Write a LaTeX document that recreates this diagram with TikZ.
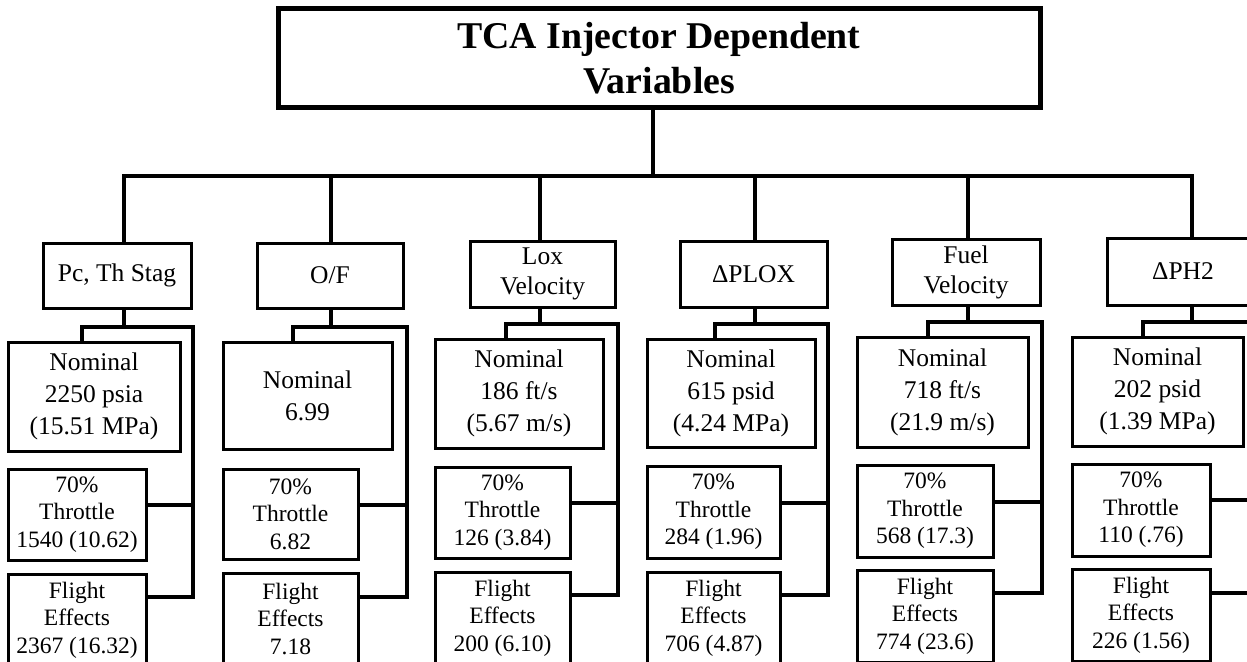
\documentclass[tikz,border=0pt]{standalone}
\usepackage{fontspec}
\setmainfont{Liberation Serif}
\begin{document}
\begin{tikzpicture}[x=1pt,y=-1pt,
  box/.style={draw, fill=white, line width=3pt, inner sep=0pt, align=center},
  sz/.style 2 args={minimum width=#1pt, minimum height=#2pt},
  titlebox/.style={box, line width=5pt, font=\fontsize{37.8}{45}\selectfont\bfseries},
  hdr/.style={box, font=\fontsize{25.5}{30}\selectfont},
  nom/.style={box, font=\fontsize{25.5}{32}\selectfont},
  small/.style={box, font=\fontsize{23.5}{27.5}\selectfont},
  wire/.style={line width=4.5pt, line join=miter}]
\useasboundingbox (0,0) rectangle (1247,661);
\clip (0,0) rectangle (1247,661);

% ---------- coordinates ----------
\coordinate (tr) at (653,176);
\coordinate (d1) at (124,176);
\coordinate (d2) at (331,176);
\coordinate (d3) at (540,176);
\coordinate (d4) at (755,176);
\coordinate (d5) at (968,176);
\coordinate (d6) at (1192,176);

\coordinate (g1) at (124,327);  \coordinate (l1) at (82,327);   \coordinate (r1) at (193,327);  \coordinate (rt1) at (193,505);  \coordinate (rf1) at (193,597);
\coordinate (g2) at (331,327);  \coordinate (l2) at (293,327);  \coordinate (r2) at (407,327);  \coordinate (rt2) at (407,505);  \coordinate (rf2) at (407,597);
\coordinate (g3) at (540,324);  \coordinate (l3) at (506,324);  \coordinate (r3) at (618,324);  \coordinate (rt3) at (618,503);  \coordinate (rf3) at (618,595);
\coordinate (g4) at (755,324);  \coordinate (l4) at (715,324);  \coordinate (r4) at (828,324);  \coordinate (rt4) at (828,503);  \coordinate (rf4) at (828,595);
\coordinate (g5) at (968,322);  \coordinate (l5) at (928,322);  \coordinate (r5) at (1042,322); \coordinate (rt5) at (1042,502); \coordinate (rf5) at (1042,593);
\coordinate (g6) at (1192,322); \coordinate (l6) at (1143,322); \coordinate (r6) at (1256,322); \coordinate (rt6) at (1256,500); \coordinate (rf6) at (1256,593);

% ---------- nodes ----------
\node[titlebox, sz={762}{98}] (top) at (659,58) {TCA Injector Dependent\\Variables};

\node[hdr, sz={148}{65}] (h1) at (117,275.5) {Pc, Th Stag};
\node[hdr, sz={146}{65}] (h2) at (330,275.5) {O/F};
\node[hdr, sz={145}{66}] (h3) at (542.5,274) {Lox\\Velocity};
\node[hdr, sz={147}{66}] (h4) at (753.5,274) {ΔPLOX};
\node[hdr, sz={148}{66}] (h5) at (966,272) {Fuel\\Velocity};
\node[hdr, sz={152}{67}] (h6) at (1183,271.5) {ΔPH2};

\node[nom, sz={172}{109}] (n1) at (94,396.5) {Nominal\\2250 psia\\(15.51 MPa)};
\node[nom, sz={169}{107}] (n2) at (307.5,395.5) {Nominal\\6.99};
\node[nom, sz={168}{109}] (n3) at (519,393.5) {Nominal\\186 ft/s\\(5.67 m/s)};
\node[nom, sz={168}{108}] (n4) at (731,393) {Nominal\\615 psid\\(4.24 MPa)};
\node[nom, sz={171}{110}] (n5) at (942.5,392) {Nominal\\718 ft/s\\(21.9 m/s)};
\node[nom, sz={171}{109}] (n6) at (1157.5,391.5) {Nominal\\202 psid\\(1.39 MPa)};

\node[small, sz={138}{91}] (t1) at (77,514.5) {70\%\\Throttle\\1540 (10.62)};
\node[small, sz={135}{90}] (t2) at (290.5,514) {70\%\\Throttle\\6.82};
\node[small, sz={135}{91}] (t3) at (502.5,512.5) {70\%\\Throttle\\126 (3.84)};
\node[small, sz={133}{92}] (t4) at (713.5,512) {70\%\\Throttle\\284 (1.96)};
\node[small, sz={136}{92}] (t5) at (925,511) {70\%\\Throttle\\568 (17.3)};
\node[small, sz={138}{92}] (t6) at (1141,510) {70\%\\Throttle\\110 (.76)};

\node[small, sz={138}{92}] (f1) at (77,620) {Flight\\Effects\\2367 (16.32)};
\node[small, sz={135}{92}] (f2) at (290.5,619) {Flight\\Effects\\7.18};
\node[small, sz={135}{92}] (f3) at (502.5,618) {Flight\\Effects\\200 (6.10)};
\node[small, sz={133}{92}] (f4) at (713.5,618) {Flight\\Effects\\706 (4.87)};
\node[small, sz={136}{92}] (f5) at (925,616) {Flight\\Effects\\774 (23.6)};
\node[small, sz={138}{92}] (f6) at (1141,615) {Flight\\Effects\\226 (1.56)};

% ---------- connectors ----------
\draw[wire] (top.south -| tr) -- (tr);
\draw[wire] (d1 |- h1.north) -- (d1) -- (d6) -- (d6 |- h6.north);
\draw[wire] (d2) -- (d2 |- h2.north);
\draw[wire] (d3) -- (d3 |- h3.north);
\draw[wire] (d4) -- (d4 |- h4.north);
\draw[wire] (d5) -- (d5 |- h5.north);

\foreach \i in {1,...,6}{
  \draw[wire] (h\i.south -| g\i) -- (g\i);
  \draw[wire] (l\i |- n\i.north) -- (l\i) -- (r\i) -- (rf\i) -- (rf\i -| f\i.east);
  \draw[wire] (t\i.east |- rt\i) -- (rt\i);
}
\end{tikzpicture}
\end{document}
